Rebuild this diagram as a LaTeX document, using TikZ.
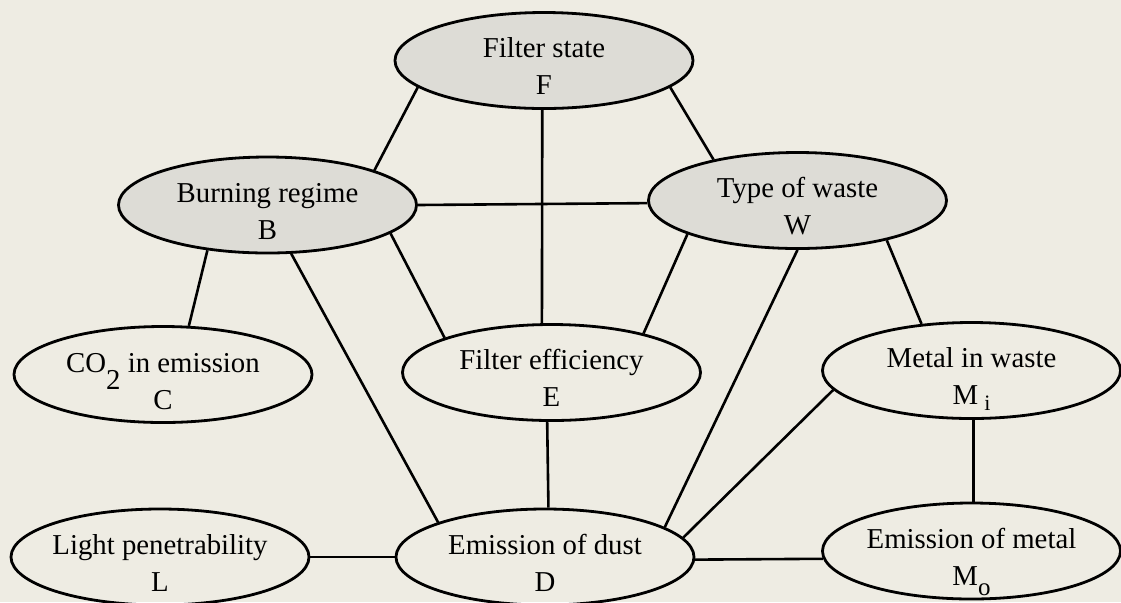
\documentclass[tikz,border=0pt]{standalone}
\usepackage{fontspec}
\setmainfont{Liberation Serif}
\usetikzlibrary{shapes.geometric,calc}

\definecolor{paper}{RGB}{238,236,227}
\definecolor{shade}{RGB}{221,220,214}

% two centred lines; the baseline of the box is that of the first line
\newcommand{\twolines}[2]{\begin{tabular}[t]{@{}c@{}}#1\\#2\end{tabular}}

\begin{document}
\begin{tikzpicture}[x=0.5pt,y=-0.5pt,
  var/.style={ellipse, draw, line width=1.4pt, minimum width=149pt,
              minimum height=48pt, inner sep=0pt},
  given/.style={var, fill=shade},
  txt/.style={anchor=base, inner sep=0pt, font=\fontsize{14.4}{18.5}\selectfont},
  link/.style={line width=1.3pt}]

\useasboundingbox[fill=paper] (0,0) rectangle (1121,602);

% variables
\node[given] (F)  at (544,60.5)   {};
\node[given] (B)  at (267.5,205)  {};
\node[given] (W)  at (797.5,200.5){};
\node[var]   (C)  at (163,374.5)  {};
\node[var]   (E)  at (551.5,372.5){};
\node[var]   (Mi) at (971.5,370.5){};
\node[var]   (L)  at (160,557)    {};
\node[var]   (D)  at (545,557)    {};
\node[var]   (Mo) at (971.5,551)  {};

% labels
\node[txt] (Ft)  at ($(F)+(0,-3)$)  {\twolines{Filter state}{F}};
\node[txt] (Bt)  at ($(B)+(0,-3)$)  {\twolines{Burning regime}{B}};
\node[txt] (Wt)  at ($(W)+(0,-3)$)  {\twolines{Type of waste}{W}};
\node[txt] (Ct)  at ($(C)+(0,-2)$)  {\twolines{CO\raisebox{-8.5pt}[0pt][0pt]{2} in emission}{C}};
\node[txt] (Et)  at ($(E)+(0,-3)$)  {\twolines{Filter efficiency}{E}};
\node[txt] (Mit) at ($(Mi)+(0,-3)$) {\twolines{Metal in waste}{M\kern3pt\raisebox{-3pt}[0pt][0pt]{\fontsize{11}{13}\selectfont i}}};
\node[txt] (Lt)  at ($(L)+(0,-3)$)  {\twolines{Light penetrability}{L}};
\node[txt] (Dt)  at ($(D)+(0,-3)$)  {\twolines{Emission of dust}{D}};
\node[txt] (Mot) at ($(Mo)+(0,-3)$) {\twolines{Emission of metal}{M\raisebox{-5pt}[0pt][0pt]{\fontsize{12.5}{14}\selectfont o}}};

% dependencies
\draw[link] (F.192.8) -- (B.18.5);
\draw[link] (F.348.4) -- (W.154.6);
\draw[link] (F.268)   -- (E.101);
\draw[link] (B.0)     -- (W.181.7);
\draw[link] (B.217.6) -- (C.62.6);
\draw[link] (B.347.5) -- (E.162);
\draw[link] (B.296.1) -- (D.162.6);
\draw[link] (W.197.2) -- (E.23.1);
\draw[link] (W.270.9) -- (D.14.9);
\draw[link] (W.336.6) -- (Mi.137.6);
\draw[link] (E.265.5) -- (D.86.8);
\draw[link] (Mi.188.8) -- (D.8.7);
\draw[link] (Mi.272)  -- (Mo.88);
\draw[link] (L.0)     -- (D.180);
\draw[link] (D.359.2) -- (Mo.183.1);

\end{tikzpicture}
\end{document}
